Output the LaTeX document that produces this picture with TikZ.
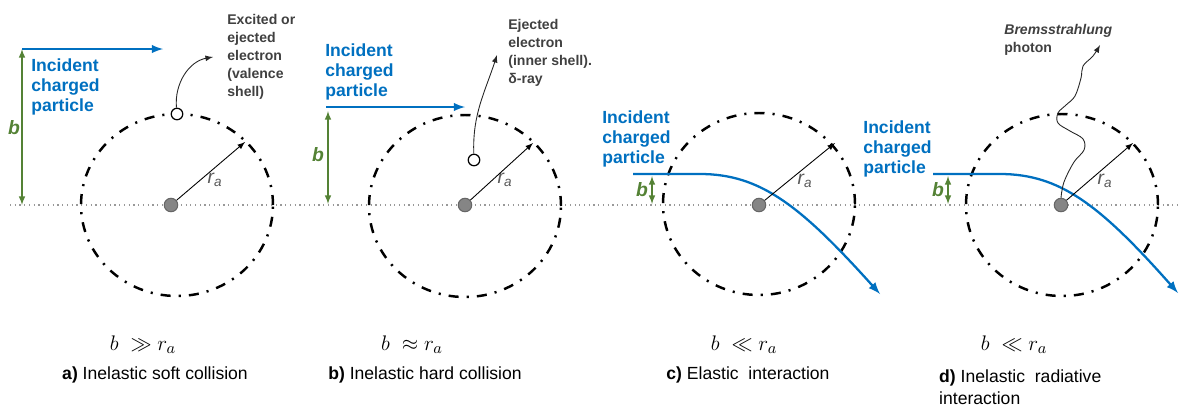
\documentclass[tikz,border=0pt]{standalone}
\usepackage{fontspec}
\setmainfont{Liberation Sans}
\usetikzlibrary{arrows}
\definecolor{pblue}{RGB}{0,112,192}
\definecolor{pgreen}{RGB}{84,130,53}
\definecolor{pgray}{RGB}{64,64,64}

\begin{document}
\begin{tikzpicture}[x=0.02cm,y=0.02cm,>=latex,
  nucleus/.style={circle,draw=black!60,fill=black!48,line width=0.6pt,minimum size=0.27cm,inner sep=0pt},
  electron/.style={circle,draw=black,fill=white,line width=0.7pt,minimum size=0.23cm,inner sep=0pt},
  shell/.style={line width=1.4pt,dash pattern=on 5.7pt off 4.6pt on 1.2pt off 4.6pt},
  axisline/.style={draw=black!40,line width=0.7pt,dotted},
  beam/.style={->,draw=pblue,line width=1.2pt},
  track/.style={->,draw=pblue,line width=1.3pt},
  impact/.style={<->,draw=pgreen,line width=0.7pt},
  rarrow/.style={->,draw=black,line width=0.5pt},
  eject/.style={->,draw=black!85,line width=0.5pt},
  incident/.style={anchor=north west,inner sep=0pt,align=left,text=pblue,font=\bfseries\fontsize{10}{11.6}\selectfont},
  note/.style={anchor=north west,inner sep=0pt,align=left,text=pgray,font=\bfseries\fontsize{8}{10.2}\selectfont},
  blab/.style={text=pgreen,font=\bfseries\itshape\fontsize{11}{13}\selectfont},
  rlab/.style={text=black!65,font=\itshape\fontsize{11}{13}\selectfont},
  relation/.style={font=\fontsize{12.5}{14}\selectfont},
  captext/.style={font=\fontsize{10}{12}\selectfont}]
\useasboundingbox (0,0) rectangle (1179,-407);

\coordinate (L0) at (10,-205);
\coordinate (L1) at (1179,-205);
\draw[axisline] (L0) -- (L1);

% a) soft collision
\coordinate (Oa) at (177,-205);
\coordinate (Ra) at (245,-142);
\coordinate (Ka) at (213,-57);
\coordinate (Sa) at (22,-49);
\coordinate (Ha) at (163,-49);
\coordinate (Fa) at (22,-205);
\draw[shell] (Oa) ellipse [x radius=96, y radius=91];
\node[nucleus] (Na) at (171,-205) {};
\node[electron] (Ea) at (177,-114) {};
\node[incident] (Ia) at (31,-58) {Incident\\charged\\particle};
\node[note] (Xa) at (227,-14) {Excited or\\ejected\\electron\\(valence\\shell)};
\node[blab] (ba) at (14,-128) {b};
\node[rlab] (ra) at (215,-180) {r\textsubscript{a}};
\node[relation] (Ma) at (143,-345) {$b\ \gg r_a$};
\node[captext] (La) at (155,-375) {\textbf{a)} Inelastic soft collision};
\draw[beam] (Sa) -- (Ha);
\draw[impact] (Sa) -- (Fa);
\draw[rarrow] (Na) -- (Ra);
\draw[eject] (Ea) to[out=95,in=190] (Ka);

% b) hard collision
\coordinate (Ob) at (465,-206);
\coordinate (Rb) at (533,-143);
\coordinate (Kb) at (497,-55);
\coordinate (Sb) at (326,-107);
\coordinate (Hb) at (465,-107);
\coordinate (Gb) at (328,-111);
\coordinate (Fb) at (328,-204);
\draw[shell] (Ob) ellipse [x radius=96, y radius=91];
\node[nucleus] (Nb) at (465,-205) {};
\node[electron] (Eb) at (474,-160) {};
\node[incident] (Ib) at (325,-43) {Incident\\charged\\particle};
\node[note] (Xb) at (508,-19) {Ejected\\electron\\(inner shell).\\δ-ray};
\node[blab] (bb) at (318,-155) {b};
\node[rlab] (rb) at (505,-180) {r\textsubscript{a}};
\node[relation] (Mb) at (412,-345) {$b\ \approx r_a$};
\node[captext] (Lb) at (425,-375) {\textbf{b)} Inelastic hard collision};
\draw[beam] (Sb) -- (Hb);
\draw[impact] (Gb) -- (Fb);
\draw[rarrow] (Nb) -- (Rb);
\draw[eject] (Eb) to[out=92,in=-108] (Kb);

% c) elastic
\coordinate (Oc) at (759,-204);
\coordinate (Rc) at (835,-143);
\coordinate (Sc) at (633,-174);
\coordinate (Hc) at (880,-294);
\coordinate (Gc) at (652,-176);
\coordinate (Fc) at (652,-204);
\draw[shell] (Oc) ellipse [x radius=96, y radius=91];
\draw[track] (Sc) -- ++(67,0) .. controls (760,-174) and (800,-205) .. (Hc);
\node[nucleus] (Nc) at (759,-205) {};
\node[incident] (Ic) at (602,-110) {Incident\\charged\\particle};
\node[blab] (bc) at (642,-190) {b};
\node[rlab] (rc) at (805,-181) {r\textsubscript{a}};
\node[relation] (Mc) at (744,-345) {$b\ \ll r_a$};
\node[captext] (Lc) at (748,-375) {\textbf{c)} Elastic\ \ interaction};
\draw[impact] (Gc) -- (Fc);
\draw[rarrow] (Nc) -- (Rc);

% d) radiative
\coordinate (Od) at (1062,-205);
\coordinate (Rd) at (1133,-143);
\coordinate (Sd) at (933,-174);
\coordinate (Hd) at (1178,-293);
\coordinate (Gd) at (948,-176);
\coordinate (Fd) at (948,-204);
\coordinate (Pd) at (1100,-45);
\draw[shell] (Od) ellipse [x radius=96, y radius=91];
\draw[track] (Sd) -- ++(67,0) .. controls (1060,-174) and (1100,-205) .. (Hd);
\node[nucleus] (Nd) at (1061,-205) {};
\node[incident] (Id) at (863,-120) {Incident\\charged\\particle};
\node[note] (Xd) at (1004,-24) {\textit{Bremsstrahlung}\\photon};
\node[blab] (bd) at (938,-190) {b};
\node[rlab] (rd) at (1105,-181) {r\textsubscript{a}};
\node[relation] (Md) at (1014,-345) {$b\ \ll r_a$};
\node[captext,anchor=north west,align=left] (Ld) at (933,-364) {\textbf{d)} Inelastic\ \ radiative\\interaction};
\draw[impact] (Gd) -- (Fd);
\draw[rarrow] (Nd) -- (Rd);
\draw[eject] plot[smooth,tension=0.6] coordinates {(Nd.north) (1064,-182) (1074,-162) (1084,-150) (1083,-139) (1070,-131) (1058,-123) (1058,-113) (1066,-105) (1075,-96) (1081,-78) (1083,-66) (1093,-56) (Pd)};
\end{tikzpicture}
\end{document}
